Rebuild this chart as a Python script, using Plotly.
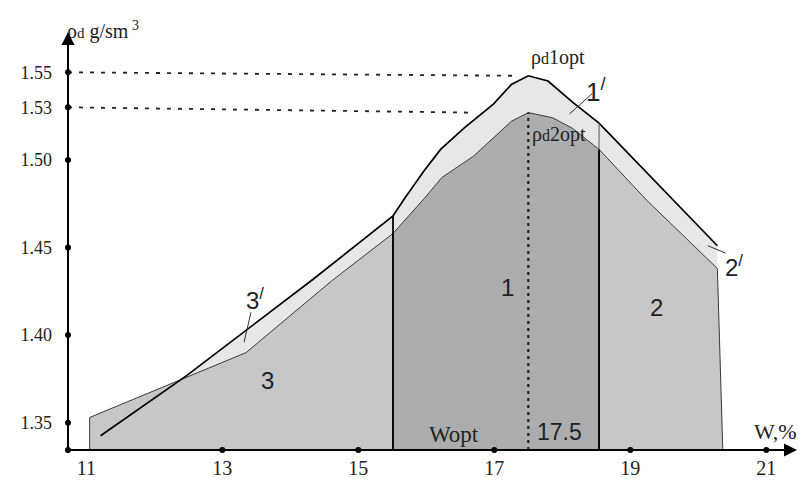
"""Courbes de compactage : densite seche rho_d en fonction de l'humidite W"""

import numpy as np
import plotly.graph_objects as go

# donnees lues sur la figure
# courbe 2 (rho_d2) : bord superieur des zones 3, 1 et 2
w_courbe2 = [11.05, 13.35, 14.61, 15.51, 15.97, 16.23, 16.69, 17.25, 17.5,
             17.86, 18.15, 18.54, 19.24, 20.28]
rho_courbe2 = [1.353, 1.390, 1.431, 1.458, 1.478, 1.490, 1.502, 1.522, 1.527,
               1.524, 1.518, 1.506, 1.477, 1.438]

# droite 3' puis courbe 1' (rho_d1)
w_courbe1 = [11.21, 12.48, 14.34, 15.51, 15.68, 15.97, 16.21, 16.55, 16.99,
             17.25, 17.5, 17.79, 18.15, 18.54, 20.28]
rho_courbe1 = [1.3425, 1.377, 1.432, 1.468, 1.478, 1.494, 1.506, 1.518, 1.532,
               1.543, 1.548, 1.545, 1.533, 1.521, 1.451]

w_limites = [15.51, 18.54]   # separation des zones 3 | 1 | 2
w_fin = 20.36                # coin bas droit de la zone 2
w_opt = 17.5
rho_opt = [1.55, 1.53]
w_fin_tirets = [17.32, 16.67]

x_ticks = [11, 13, 15, 17, 19, 21]
y_ticks = [1.35, 1.40, 1.45, 1.50, 1.53, 1.55]
y_tick_labels = ["1.35", "1.40", "1.45", "1.50", "1.53", "1.55"]

X_MIN, X_MAX = 10.731, 21.451
Y_MIN, Y_MAX = 1.3344, 1.5730

SERIF = "Liberation Serif"
SANS = "Liberation Sans"
INK = "#222222"


def ligne(x, y, color="black", width=1.5, dash=None):
    return go.Scatter(x=x, y=y, mode="lines", hoverinfo="skip", cliponaxis=False,
                      line=dict(color=color, width=width, dash=dash))


def zone(x, y, fill):
    return go.Scatter(x=x, y=y, mode="lines", fill="toself", fillcolor=fill,
                      hoverinfo="skip", line=dict(color="#3a3a3a", width=1))


def main():
    base = Y_MIN
    i1 = w_courbe2.index(w_limites[0])
    i2 = w_courbe2.index(w_limites[1])

    fig = go.Figure()

    # bande claire entre les deux courbes
    fig.add_trace(go.Scatter(x=w_courbe1 + w_courbe2[::-1],
                             y=rho_courbe1 + rho_courbe2[::-1],
                             mode="none", fill="toself", fillcolor="#e7e7e7",
                             hoverinfo="skip"))
    # zones 3, 1, 2
    fig.add_trace(zone([w_courbe2[0]] + w_courbe2[:i1 + 1] + [w_limites[0]],
                       [base] + rho_courbe2[:i1 + 1] + [base], "#c6c7c6"))
    fig.add_trace(zone([w_limites[0]] + w_courbe2[i1:i2 + 1] + [w_limites[1]],
                       [base] + rho_courbe2[i1:i2 + 1] + [base], "#abacad"))
    fig.add_trace(zone([w_limites[1]] + w_courbe2[i2:] + [w_fin],
                       [base] + rho_courbe2[i2:] + [base], "#c6c7c6"))

    # courbe 1' et droite 3'
    fig.add_trace(ligne(w_courbe1, rho_courbe1, width=1.7))

    # limites verticales
    r1 = float(np.interp(w_limites[0], w_courbe1, rho_courbe1))
    fig.add_trace(ligne([w_limites[0]] * 2, [base, r1], width=1.8))
    r2 = float(np.interp(w_limites[1], w_courbe2, rho_courbe2))
    r2h = float(np.interp(w_limites[1], w_courbe1, rho_courbe1))
    fig.add_trace(ligne([w_limites[1]] * 2, [base, r2], width=1.8))
    fig.add_trace(ligne([w_limites[1]] * 2, [r2, r2h], color="#555555", width=1))

    # Wopt en pointilles
    fig.add_trace(ligne([w_opt, w_opt], [base, max(rho_courbe2)], color="#222222",
                        width=2.2, dash="3px,4px"))
    # tirets vers rho_d1opt et rho_d2opt
    fig.add_trace(ligne([X_MIN, w_fin_tirets[0]], [rho_opt[0], max(rho_courbe1)],
                        color="#222222", width=1.8, dash="4px,7px"))
    fig.add_trace(ligne([X_MIN, w_fin_tirets[1]], [rho_opt[1], max(rho_courbe2)],
                        color="#222222", width=1.8, dash="4px,7px"))

    # points des graduations
    fig.add_trace(go.Scatter(x=[X_MIN] + x_ticks[1:] + [X_MIN] * len(y_ticks),
                             y=[base] * len(x_ticks) + y_ticks,
                             mode="markers", cliponaxis=False, hoverinfo="skip",
                             marker=dict(color="black", size=6)))

    notes = [
        # texte, x, y, police, taille
        ("ρ<span style='font-size:16px'>d</span>1opt", 17.93, 1.5585, SERIF, 20),
        ("ρ<span style='font-size:16px'>d</span>2opt", 17.95, 1.5144, SERIF, 20),
        ("1<sup>/</sup>", 18.50, 1.5395, SANS, 26),
        ("2<sup>/</sup>", 20.53, 1.4395, SANS, 24),
        ("3<sup>/</sup>", 13.48, 1.4205, SANS, 24),
        ("1", 17.189, 1.4272, SANS, 24),
        ("2", 19.385, 1.4158, SANS, 24),
        ("3", 13.669, 1.3743, SANS, 24),
        ("Wopt", 16.41, 1.3435, SERIF, 23),
        ("17.5", 17.96, 1.3446, SANS, 23),
        ("W,%", 21.13, 1.3452, SERIF, 22),
    ]
    for txt, x, y, fam, size in notes:
        fig.add_annotation(x=x, y=y, text=txt, showarrow=False,
                           font=dict(family=fam, size=size, color=INK))

    # titre de l'axe vertical, au-dessus de la fleche
    fig.add_annotation(x=X_MIN, xref="x", y=1, yref="paper", xanchor="left",
                       yanchor="middle", xshift=-3, yshift=2, showarrow=False,
                       text="ρ<span style='font-size:15px'>d</span> g/sm<sup> 3</sup>",
                       font=dict(family=SERIF, size=20, color=INK))

    # traits de rappel des etiquettes 1', 2', 3'
    for (xa, ya, xb, yb) in [(18.44, 1.5378, 18.105, 1.5262),
                             (20.14, 1.4510, 20.40, 1.4468),
                             (13.422, 1.4130, 13.32, 1.3959)]:
        fig.add_shape(type="line", x0=xa, y0=ya, x1=xb, y1=yb,
                      line=dict(color="#333333", width=1))

    # axes avec fleches
    fig.add_annotation(x=X_MAX, y=base, ax=X_MIN, ay=base, axref="x", ayref="y",
                       showarrow=True, arrowhead=2, arrowsize=1.3, arrowwidth=2,
                       arrowcolor="black", text="")
    fig.add_annotation(x=X_MIN, y=Y_MAX, ax=X_MIN, ay=base, axref="x", ayref="y",
                       showarrow=True, arrowhead=2, arrowsize=1.3, arrowwidth=2,
                       arrowcolor="black", text="")

    # la page ajoute 8 px de marge autour du graphique
    fig.update_layout(
        width=808, height=483, showlegend=False,
        margin=dict(l=52, r=19, t=24, b=40),
        paper_bgcolor="white", plot_bgcolor="white",
        xaxis=dict(range=[X_MIN, X_MAX], tickvals=x_ticks,
                   ticktext=[str(v) for v in x_ticks], showgrid=False,
                   zeroline=False, showline=False, ticks="",
                   ticklabelstandoff=4,
                   tickfont=dict(family=SERIF, size=20, color=INK)),
        yaxis=dict(range=[Y_MIN, Y_MAX], tickvals=y_ticks, ticktext=y_tick_labels,
                   showgrid=False, zeroline=False, showline=False, ticks="",
                   ticklabelstandoff=15,
                   tickfont=dict(family=SERIF, size=18, color=INK)),
    )
    fig.write_html("out.html")


if __name__ == "__main__":
    main()
